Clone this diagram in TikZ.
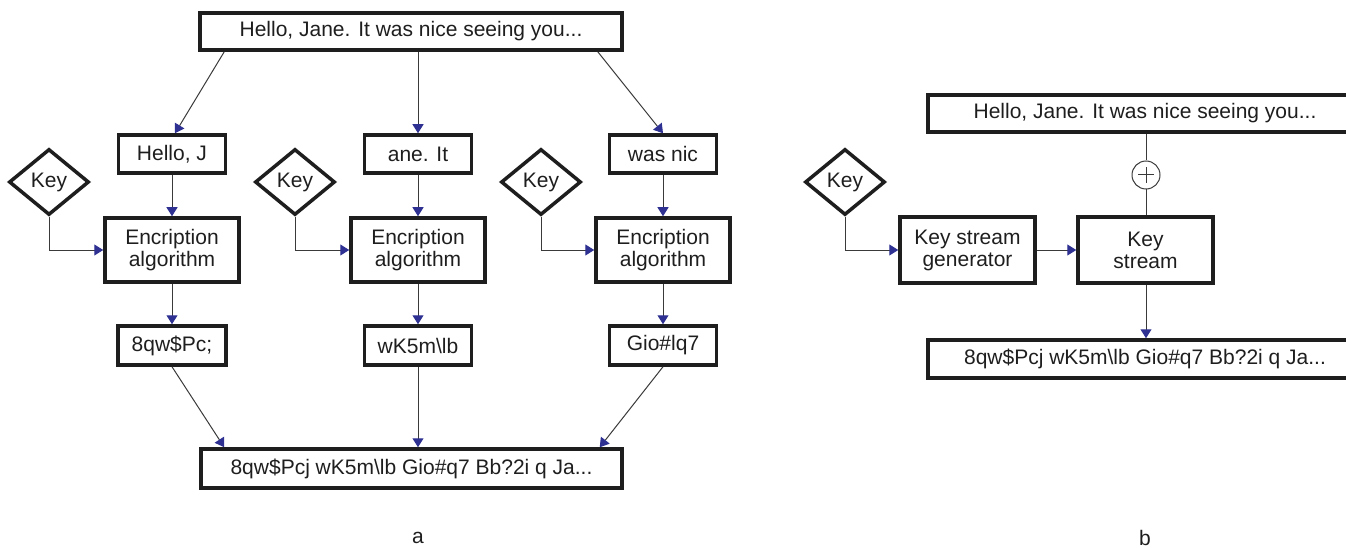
\documentclass[tikz,border=0pt]{standalone}
\usepackage{fontspec}
\setmainfont{Liberation Sans}
\usetikzlibrary{shapes.geometric,arrows.meta}
\definecolor{arrowblue}{HTML}{2E3192}
\definecolor{boxline}{HTML}{1E1E1E}
\definecolor{thinline}{HTML}{3A3A3A}
\tikzset{
  blk/.style={draw=boxline, line width=3.5pt, inner sep=0pt, align=center,
    text=boxline, font=\fontsize{21}{22}\selectfont},
  keyd/.style={diamond, draw=boxline, line width=3.5pt, inner sep=0pt,
    minimum width=80pt, minimum height=66pt, text=boxline,
    font=\fontsize{21}{22}\selectfont},
  arr/.style={draw=thinline, line width=1pt,
    -{Triangle[length=9pt,width=11pt,color=arrowblue]}},
  ln/.style={draw=thinline, line width=1pt},
  lbl/.style={text=boxline, font=\fontsize{21}{22}\selectfont, inner sep=0pt}
}
\begin{document}
\begin{tikzpicture}[x=1pt,y=-1pt]
\useasboundingbox (0,0) rectangle (1346,548);
\clip (0,0) rectangle (1346,548);
% ---------- panel a ----------
\node[blk, minimum width=422pt, minimum height=37pt] (top) at (411,31.5) {Hello, Jane. It was nice seeing you...};
\node[blk, minimum width=107pt, minimum height=38pt] (h1) at (172,154) {Hello, J};
\node[blk, minimum width=107pt, minimum height=38pt] (h2) at (418,154) {ane. It};
\node[blk, minimum width=107pt, minimum height=38pt] (h3) at (663,154) {was nic};
\node[blk, minimum width=134pt, minimum height=64pt] (e1) at (172,250) {Encription\\algorithm};
\node[blk, minimum width=134pt, minimum height=64pt] (e2) at (418,250) {Encription\\algorithm};
\node[blk, minimum width=134pt, minimum height=64pt] (e3) at (663,250) {Encription\\algorithm};
\node[keyd] (k1) at (49,182) {Key};
\node[keyd] (k2) at (295,182) {Key};
\node[keyd] (k3) at (541,182) {Key};
\node[blk, minimum width=108pt, minimum height=39pt] (o1) at (172,345.5) {8qw\$Pc;};
\node[blk, minimum width=107pt, minimum height=39pt] (o2) at (418,345.5) {wK5m\textbackslash lb};
\node[blk, minimum width=107pt, minimum height=39pt] (o3) at (663,345.5) {Gio\#lq7};
\node[blk, minimum width=421pt, minimum height=39pt] (bot) at (411.5,468.5) {8qw\$Pcj wK5m\textbackslash lb Gio\#q7 Bb?2i q Ja...};
\node[lbl] (la) at (418,538) {a};

\draw[arr] ([xshift=26pt]top.south west) -- ([xshift=3pt]h1.north);
\draw[arr] (top.south -| h2.north) -- (h2.north);
\draw[arr] ([xshift=-26pt]top.south east) -- (h3.north);
\draw[arr] (h1) -- (e1);
\draw[arr] (h2) -- (e2);
\draw[arr] (h3) -- (e3);
\draw[arr] (k1.south) |- (e1.west);
\draw[arr] (k2.south) |- (e2.west);
\draw[arr] (k3.south) |- (e3.west);
\draw[arr] (e1) -- (o1);
\draw[arr] (e2) -- (o2);
\draw[arr] (e3) -- (o3);
\draw[arr] (o1.south) -- ([xshift=25pt]bot.north west);
\draw[arr] (o2.south) -- (o2.south |- bot.north);
\draw[arr] (o3.south) -- ([xshift=-24pt]bot.north east);

% ---------- panel b (right boxes run past the picture's edge) ----------
\node[blk, minimum width=460pt, minimum height=37pt] (top2) at (1157.75,113.5) {Hello, Jane. It was nice seeing you...\hspace*{25.5pt}};
\node[circle, draw=thinline, line width=1pt, minimum size=28pt, inner sep=0pt,
  path picture={\draw[thinline, line width=1pt] ([xshift=-8pt]path picture bounding box.center) -- ++(16pt,0)
    ([yshift=-8pt]path picture bounding box.center) -- ++(0,16pt);}] (plus) at (1146,175) {};
\node[keyd] (k4) at (845,182) {Key};
\node[blk, minimum width=135pt, minimum height=66pt] (kg) at (967.5,250) {Key stream\\generator};
\node[blk, minimum width=135pt, minimum height=66pt] (ks) at (1145.5,250) {Key\\stream};
\node[blk, minimum width=460pt, minimum height=38pt] (out2) at (1157.75,359) {8qw\$Pcj wK5m\textbackslash lb Gio\#q7 Bb?2i q Ja...\hspace*{25.5pt}};
\node[lbl] (lb) at (1145,538) {b};

\draw[ln] (top2.south -| plus.north) -- (plus.north);
\draw[ln] (plus.south) -- (plus.south |- ks.north);
\draw[arr] (k4.south) |- (kg.west);
\draw[arr] (kg) -- (ks);
\draw[arr] (ks.south -| plus.south) -- (plus.south |- out2.north);
\end{tikzpicture}
\end{document}
